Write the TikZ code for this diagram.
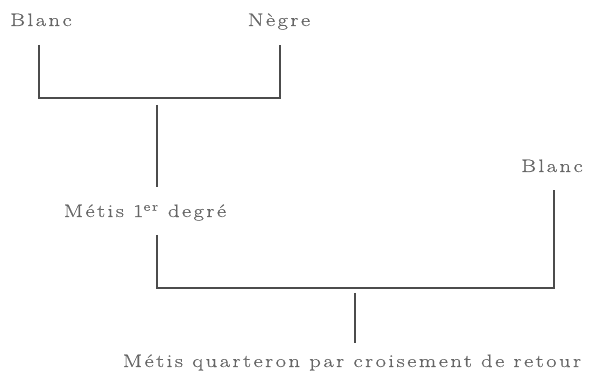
\documentclass[tikz,border=0pt]{standalone}
\usepackage{fontspec}
\newfontfamily\racefont{Latin Modern Roman}[LetterSpace=14,FakeStretch=1.25,FakeBold=0.6]
\usepackage{tikz}
\usetikzlibrary{positioning}

\begin{document}
\begin{tikzpicture}[
  x=1pt,y=1pt,
  race/.style={font=\fontsize{18}{20}\racefont,
    text=black!60,inner sep=0pt,anchor=base},
  bar/.style={line width=2.8pt,draw=black!70}
]
\useasboundingbox (0,0) rectangle (590,377);

% premier croisement
\node[race] (blancA) at (41,351) {Blanc};
\node[race] (negre) at (279,351) {Nègre};
\coordinate (unionA) at (157,279);
\draw[bar] ([yshift=-19pt]blancA.base-|39,0) |- (unionA) -| ([yshift=-19pt]negre.base-|280,0);

\node[race] (metisA) at (145,160) {Métis 1\textsuperscript{er} degré};
\draw[bar] ([yshift=-7pt]unionA) -- ([yshift=30pt]metisA.base-|unionA);

% croisement de retour
\node[race] (blancB) at (552,205) {Blanc};
\coordinate (unionB) at (355,89);
\draw[bar] ([yshift=-18pt]metisA.base-|unionA) |- (unionB) -| ([yshift=-18pt]blancB.base-|554,0);

\node[race] (metisB) at (352,10) {Métis quarteron par croisement de retour};
\draw[bar] ([yshift=-5pt]unionB) -- ([yshift=24pt]metisB.base-|unionB);
\end{tikzpicture}
\end{document}
